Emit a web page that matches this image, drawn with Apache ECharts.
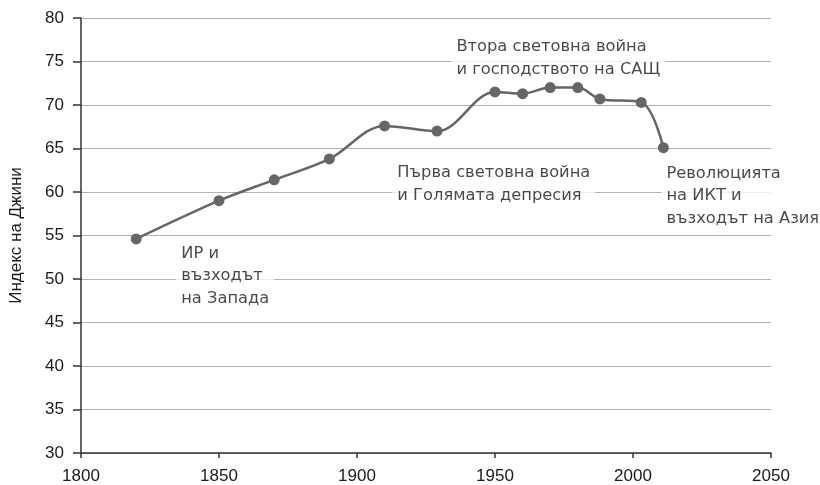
<!DOCTYPE html>
<html>
<head>
<meta charset="utf-8">
<title>Индекс на Джини</title>
<script src="https://cdn.jsdelivr.net/npm/echarts@6/dist/echarts.min.js"></script>
<style>
	html,body{margin:0;padding:0;background:#fff;}
	#main{width:820px;height:485px;}
</style>
</head>
<body>
<div id="main"></div>
<script type="text/javascript">
	// години и стойности на индекса
	var years = [1820, 1850, 1870, 1890, 1910, 1929, 1950, 1960, 1970, 1980, 1988, 2003, 2011];
	var gini = [54.6, 59.0, 61.4, 63.8, 67.6, 67.0, 71.5, 71.3, 72.0, 72.0, 70.7, 70.3, 65.1];

	// надписи: година, стойност (горен ляв ъгъл) и текст
	var noteX = [1834.5, 1912.8, 1934.2, 2010.3];
	var noteY = [54.2, 63.45, 77.95, 63.4];
	var noteText = [
		'ИР и\nвъзходът\nна Запада',
		'Първа световна война\nи Голямата депресия',
		'Втора световна война\nи господството на САЩ',
		'Революцията\nна ИКТ и\nвъзходът на Азия'
	];

	var xTicks = [1800, 1850, 1900, 1950, 2000, 2050];

	var lineData = [];
	for (var i = 0; i < years.length; i++) {
		lineData.push([years[i], gini[i]]);
	}
	var notes = [];
	for (var j = 0; j < noteText.length; j++) {
		notes.push({value: [noteX[j], noteY[j]], text: noteText[j]});
	}

	var myChart = echarts.init(document.getElementById('main'));
	var option = {
		animation: false,
		textStyle: {fontFamily: 'Liberation Sans, Arial, sans-serif'},
		grid: {left: 81, right: 49, top: 18, bottom: 31},
		xAxis: {
			type: 'value',
			min: xTicks[0],
			max: xTicks[xTicks.length - 1],
			interval: 50,
			axisLine: {lineStyle: {color: '#333', width: 1.5}},
			axisTick: {show: true, length: 5, lineStyle: {color: '#333', width: 1.5}},
			axisLabel: {
				color: '#1a1a1a', fontSize: 17, margin: 15,
				formatter: function (v) { return String(v); }
			},
			splitLine: {show: false}
		},
		yAxis: {
			type: 'value',
			min: 30,
			max: 80,
			interval: 5,
			name: 'Индекс на Джини',
			nameLocation: 'middle',
			nameGap: 56,
			nameTextStyle: {color: '#1a1a1a', fontSize: 17},
			axisLine: {show: true, lineStyle: {color: '#333', width: 1.5}},
			axisTick: {show: true, length: 8, lineStyle: {color: '#333', width: 1.5}},
			axisLabel: {color: '#1a1a1a', fontSize: 17, margin: 17},
			splitLine: {show: true, lineStyle: {color: '#b0b0b0', width: 1}}
		},
		series: [
			{
				type: 'line',
				data: lineData,
				smooth: 0.35,
				symbol: 'circle',
				symbolSize: 11,
				itemStyle: {color: '#666'},
				lineStyle: {color: '#666', width: 2.5},
				z: 3
			},
			{
				type: 'scatter',
				data: notes,
				symbolSize: 0,
				silent: true,
				z: 4,
				label: {
					show: true,
					position: [0, 0],
					align: 'left',
					verticalAlign: 'top',
					formatter: function (p) { return p.data.text; },
					color: '#1a1a1a',
					fontFamily: 'DejaVu Sans',
					fontSize: 16.3,
					lineHeight: 22.5,
					backgroundColor: '#fff',
					padding: [0, 5]
				}
			}
		]
	};
	myChart.setOption(option);
</script>
</body>
</html>
